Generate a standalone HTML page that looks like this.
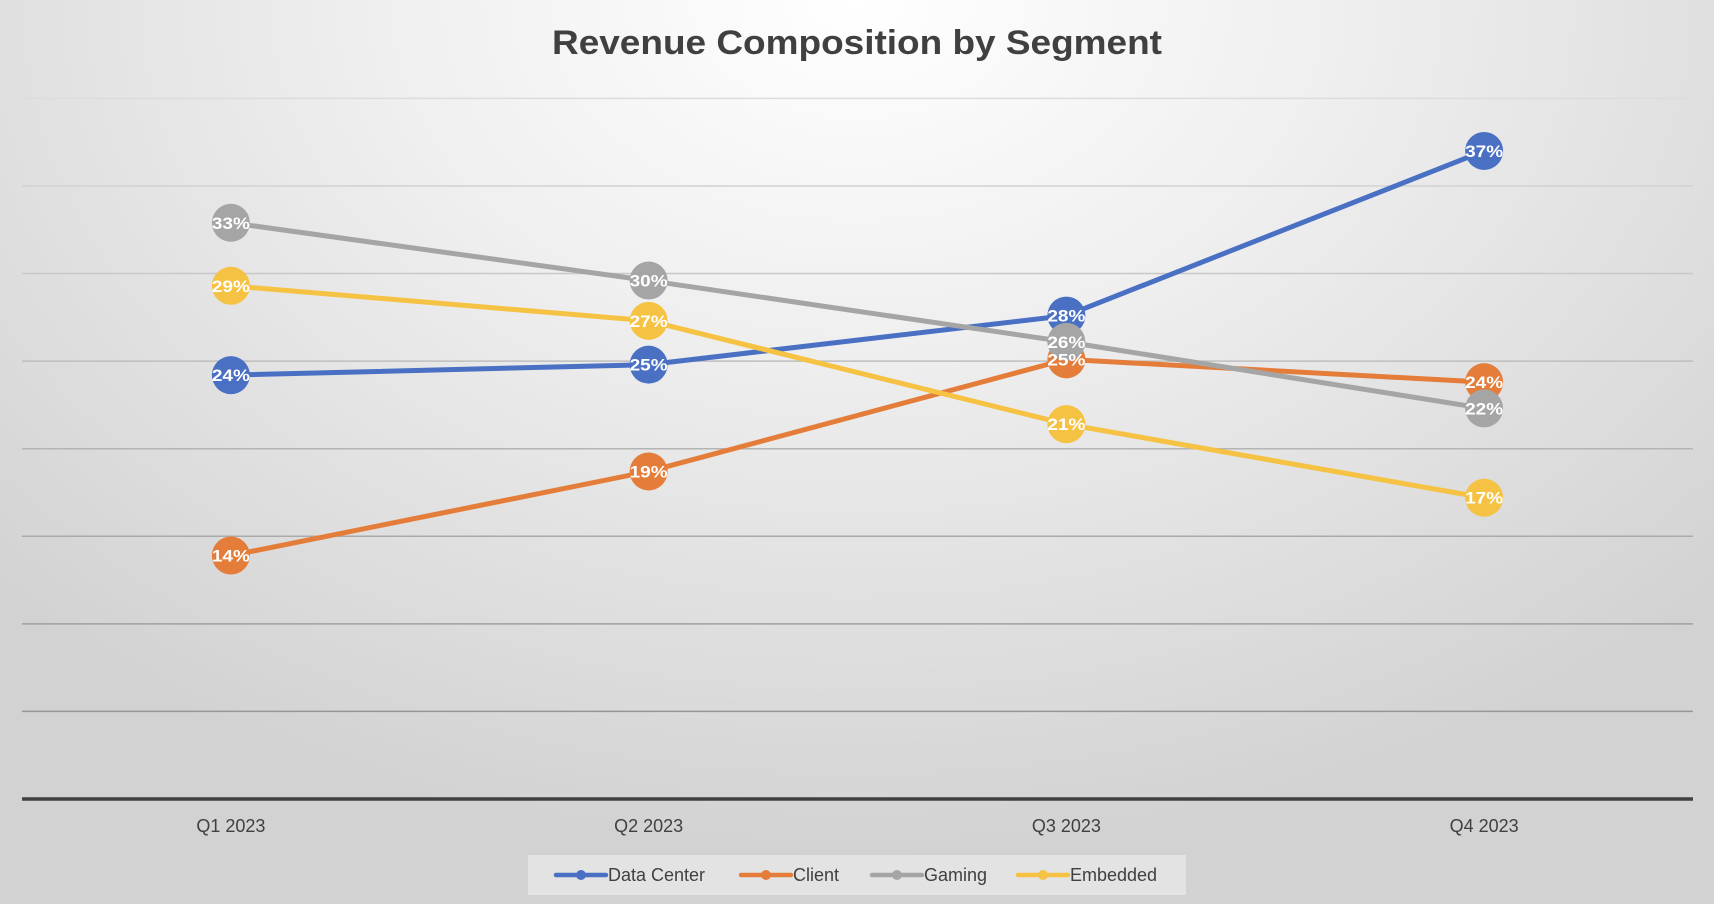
<!DOCTYPE html>
<html><head><meta charset="utf-8">
<style>
html,body{margin:0;padding:0;}
body{width:1714px;height:904px;overflow:hidden;background:radial-gradient(ellipse 70% 95% at 50% 0%,#ffffff 0%,#efefef 40%,#d2d2d2 100%);font-family:"Liberation Sans",sans-serif;}
svg{position:absolute;left:0;top:0;}
</style></head>
<body>
<svg id="chart" width="1714" height="904"></svg>
<script>
const categories = ["Q1 2023","Q2 2023","Q3 2023","Q4 2023"];
const seriesNames = ["Data Center","Client","Gaming","Embedded"];
const dataCenter = [24.2, 24.8, 27.6, 37.0];
const client = [13.9, 18.7, 25.1, 23.8];
const gaming = [32.9, 29.6, 26.1, 22.3];
const embedded = [29.3, 27.3, 21.4, 17.2];
const yTicks = [0,5,10,15,20,25,30,35,40];
const colors = ["#4a70c4","#e47d3a","#a5a5a5","#f6c244"];
const allSeries = [dataCenter, client, gaming, embedded];

const NS = "http://www.w3.org/2000/svg";
const svg = document.getElementById("chart");
const plotL = 22, plotR = 1693, y0 = 799, yTop = 98.4, yMax = 40;
const bandW = (plotR - plotL) / categories.length;
function xScale(i){ return plotL + bandW * (i + 0.5); }
function yScale(v){ return y0 - (v / yMax) * (y0 - yTop); }
function mk(tag, attrs){ const e = document.createElementNS(NS, tag); for (const k in attrs) e.setAttribute(k, attrs[k]); svg.appendChild(e); return e; }

const title = mk("text",{x:857,y:54,"text-anchor":"middle","font-size":"34","font-weight":"bold",fill:"#404040","font-family":"Liberation Sans, sans-serif",textLength:"610",lengthAdjust:"spacingAndGlyphs"});
title.textContent = "Revenue Composition by Segment";



yTicks.forEach((t, i) => {
  if (t === 0) return;
  const c = Math.round(0x8c + (0xdc - 0x8c) * (t / yMax));
  const hex = c.toString(16);
  const g = mk("line",{x1:plotL,x2:plotR,y1:yScale(t),y2:yScale(t),stroke:"#"+hex+hex+hex,"stroke-width":"1.5"});
  
  
});
const axis = mk("line",{x1:plotL,x2:plotR,y1:y0,y2:y0,stroke:"#404040","stroke-width":"3.5"});



categories.forEach((c, i) => {
  const t = mk("text",{x:xScale(i),y:832,"text-anchor":"middle","font-size":"18",fill:"#404040"});
  t.textContent = c;
  
  
});

allSeries.forEach((s, si) => {
  const pts = s.map((v, i) => xScale(i) + "," + yScale(v)).join(" ");
  const pl = mk("polyline",{points:pts,fill:"none",stroke:colors[si],"stroke-width":"5","stroke-linejoin":"round"});
  
  
});
allSeries.forEach((s, si) => {
  s.forEach((v, i) => {
    const c = mk("circle",{cx:xScale(i),cy:yScale(v),r:19,fill:colors[si]});
    
    
  });
});
allSeries.forEach((s, si) => {
  s.forEach((v, i) => {
    const t = mk("text",{x:xScale(i),y:yScale(v)+6,"text-anchor":"middle","font-size":"17","font-weight":"bold",fill:"#ffffff",textLength:"38",lengthAdjust:"spacingAndGlyphs"});
    t.textContent = Math.round(v) + "%";
    
    
  });
});

const lb = mk("rect",{x:528,y:855,width:658,height:40,fill:"#e3e3e3"});


const legX = [556, 741, 872, 1018];
seriesNames.forEach((n, i) => {
  const x = legX[i];
  const l = mk("line",{x1:x,x2:x+50,y1:875,y2:875,stroke:colors[i],"stroke-width":"4.5","stroke-linecap":"round"});
  
  
  const d = mk("circle",{cx:x+25,cy:875,r:5,fill:colors[i]});
  
  
  const t = mk("text",{x:x+52,y:881,"font-size":"18",fill:"#404040"});
  t.textContent = n;
  
  
});
</script>
</body></html>
